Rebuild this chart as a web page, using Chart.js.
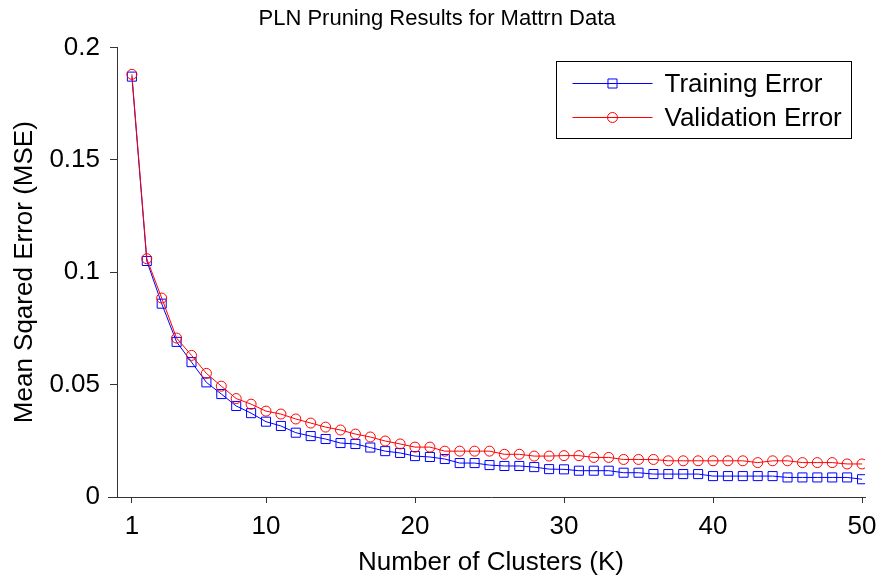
<!DOCTYPE html>
<html>
<head>
<meta charset="utf-8">
<script src="https://cdn.jsdelivr.net/npm/chart.js@4/dist/chart.umd.min.js"></script>
<style>
  body { margin: 0; background: #fff; }
  #wrap { width: 878px; height: 580px; position: relative; }
</style>
</head>
<body>
<div id="wrap"><canvas id="myChart"></canvas></div>
<script>
// number of clusters K = 1..50
var clusters = [1,2,3,4,5,6,7,8,9,10,11,12,13,14,15,16,17,18,19,20,21,22,23,24,25,
                26,27,28,29,30,31,32,33,34,35,36,37,38,39,40,41,42,43,44,45,46,47,48,49,50];

var trainingError = [0.187, 0.105, 0.086, 0.069, 0.060, 0.051, 0.0458, 0.0405, 0.0373, 0.0335,
                     0.0316, 0.0286, 0.0271, 0.0258, 0.0240, 0.0236, 0.0220, 0.0204, 0.0196, 0.0182,
                     0.0178, 0.0169, 0.0151, 0.0151, 0.0142, 0.0138, 0.0138, 0.0133, 0.0124, 0.0123,
                     0.0117, 0.0117, 0.0117, 0.0108, 0.0108, 0.0102, 0.0102, 0.0102, 0.0102, 0.0093,
                     0.0093, 0.0093, 0.0093, 0.0093, 0.0087, 0.0087, 0.0087, 0.0087, 0.0087, 0.0079];

var validationError = [0.188, 0.106, 0.0885, 0.0707, 0.063, 0.055, 0.0493, 0.0438, 0.0413, 0.0382,
                       0.0369, 0.0347, 0.0329, 0.0311, 0.0298, 0.0280, 0.0267, 0.0249, 0.0236, 0.0222,
                       0.0222, 0.0204, 0.0204, 0.0204, 0.0204, 0.0190, 0.0190, 0.0182, 0.0182, 0.0184,
                       0.0184, 0.0176, 0.0176, 0.0167, 0.0167, 0.0167, 0.0161, 0.0161, 0.0161, 0.0161,
                       0.0161, 0.0161, 0.0153, 0.0161, 0.0161, 0.0153, 0.0153, 0.0153, 0.0147, 0.0147];

var xTicks = [1, 10, 20, 30, 40, 50];
var yTicks = [0, 0.05, 0.1, 0.15, 0.2];

var FONT = "'Liberation Sans', Arial, sans-serif";
var AXIS = '#333';

function toPoints(ys) {
    return clusters.map(function (k, i) { return { x: k, y: ys[i] }; });
}

// matlab style legend box, top right of the plot
var boxLegend = {
    id: 'boxLegend',
    afterDraw: function (chart) {
        var ctx = chart.ctx, area = chart.chartArea;
        var sets = chart.data.datasets;
        ctx.save();
        ctx.font = '26px ' + FONT;
        var textW = 0;
        sets.forEach(function (d) { textW = Math.max(textW, ctx.measureText(d.label).width); });
        var rowH = 34, padL = 16, lineW = 80, gap = 12, padR = 10;
        var w = Math.round(padL + lineW + gap + textW + padR);
        var h = rowH * sets.length + 9;
        var x0 = Math.round(area.right - 14 - w) + 0.5;
        var y0 = Math.round(area.top + 14) + 0.5;
        ctx.fillStyle = '#fff';
        ctx.fillRect(x0, y0, w, h);
        ctx.strokeStyle = '#000';
        ctx.lineWidth = 1;
        ctx.strokeRect(x0, y0, w, h);
        sets.forEach(function (d, i) {
            var cy = Math.round(y0 + 4 + rowH / 2 + i * rowH) + 0.5;
            ctx.strokeStyle = d.borderColor;
            ctx.lineWidth = 1;
            ctx.beginPath();
            ctx.moveTo(x0 + padL, cy);
            ctx.lineTo(x0 + padL + lineW, cy);
            ctx.stroke();
            ctx.fillStyle = 'rgba(0,0,0,0)';
            ctx.strokeStyle = d.pointBorderColor;
            Chart.helpers.drawPoint(ctx, {
                pointStyle: d.pointStyle,
                radius: d.pointRadius,
                borderWidth: 1
            }, x0 + padL + lineW / 2, cy);
            ctx.fillStyle = '#000';
            ctx.textBaseline = 'middle';
            ctx.textAlign = 'left';
            ctx.fillText(d.label, x0 + padL + lineW + gap, cy + 1);
        });
        ctx.restore();
    }
};

// x axis line runs a little past the y axis on the left
var axisStub = {
    id: 'axisStub',
    afterDraw: function (chart) {
        var ctx = chart.ctx, area = chart.chartArea;
        ctx.save();
        ctx.strokeStyle = AXIS;
        ctx.lineWidth = 1;
        ctx.beginPath();
        ctx.moveTo(area.left - 9, Math.round(area.bottom) + 0.5);
        ctx.lineTo(area.left, Math.round(area.bottom) + 0.5);
        ctx.stroke();
        ctx.restore();
    }
};

var ctx = document.getElementById('myChart').getContext('2d');
var myChart = new Chart(ctx, {
    type: 'line',
    data: {
        datasets: [{
            label: 'Training Error',
            data: toPoints(trainingError),
            borderColor: '#0000ff',
            backgroundColor: 'rgba(0,0,0,0)',
            borderWidth: 1,
            pointStyle: 'rect',
            pointRadius: 6.4,
            pointBorderWidth: 1,
            pointBorderColor: '#0000ff',
            pointBackgroundColor: 'rgba(0,0,0,0)',
            order: 2
        }, {
            label: 'Validation Error',
            data: toPoints(validationError),
            borderColor: '#ff0000',
            backgroundColor: 'rgba(0,0,0,0)',
            borderWidth: 1,
            pointStyle: 'circle',
            pointRadius: 5,
            pointBorderWidth: 1,
            pointBorderColor: '#ff0000',
            pointBackgroundColor: 'rgba(0,0,0,0)',
            order: 1
        }]
    },
    options: {
        responsive: true,
        maintainAspectRatio: false,
        animation: false,
        layout: { padding: { left: 9, right: 13, top: 0, bottom: 0 } },
        plugins: {
            legend: { display: false },
            tooltip: { enabled: false },
            title: {
                display: true,
                text: 'PLN Pruning Results for Mattrn Data',
                color: '#000',
                font: { family: FONT, size: 22, weight: 'normal' },
                padding: { top: 6, bottom: 15 }
            }
        },
        scales: {
            x: {
                type: 'linear',
                min: 0,
                max: 50.2,
                afterBuildTicks: function (scale) {
                    scale.ticks = xTicks.map(function (v) { return { value: v }; });
                },
                afterFit: function (scale) {
                    scale.height = 83;
                    scale.paddingLeft = 0;
                    scale.paddingRight = 0;
                },
                grid: { drawOnChartArea: false, drawTicks: true, tickLength: 6, color: AXIS },
                border: { display: true, color: AXIS, width: 1 },
                ticks: {
                    color: '#000',
                    padding: 8,
                    maxRotation: 0,
                    font: { family: FONT, size: 26 },
                    callback: function (v) { return String(v); }
                },
                title: {
                    display: true,
                    text: 'Number of Clusters (K)',
                    color: '#000',
                    font: { family: FONT, size: 26 },
                    padding: { top: 4, bottom: 2 }
                }
            },
            y: {
                min: 0,
                max: 0.2,
                afterBuildTicks: function (scale) {
                    scale.ticks = yTicks.map(function (v) { return { value: v }; });
                },
                afterFit: function (scale) {
                    scale.width = 108;
                    scale.paddingTop = 0;
                    scale.paddingBottom = 0;
                },
                grid: { drawOnChartArea: false, drawTicks: true, tickLength: 7, color: AXIS },
                border: { display: true, color: AXIS, width: 1 },
                ticks: {
                    color: '#000',
                    padding: 10,
                    font: { family: FONT, size: 26 },
                    callback: function (v) { return String(v); }
                },
                title: {
                    display: true,
                    text: 'Mean Sqared Error (MSE)',
                    color: '#000',
                    font: { family: FONT, size: 26 },
                    padding: { top: 0, bottom: 10 }
                }
            }
        }
    },
    plugins: [boxLegend, axisStub]
});
</script>
</body>
</html>
